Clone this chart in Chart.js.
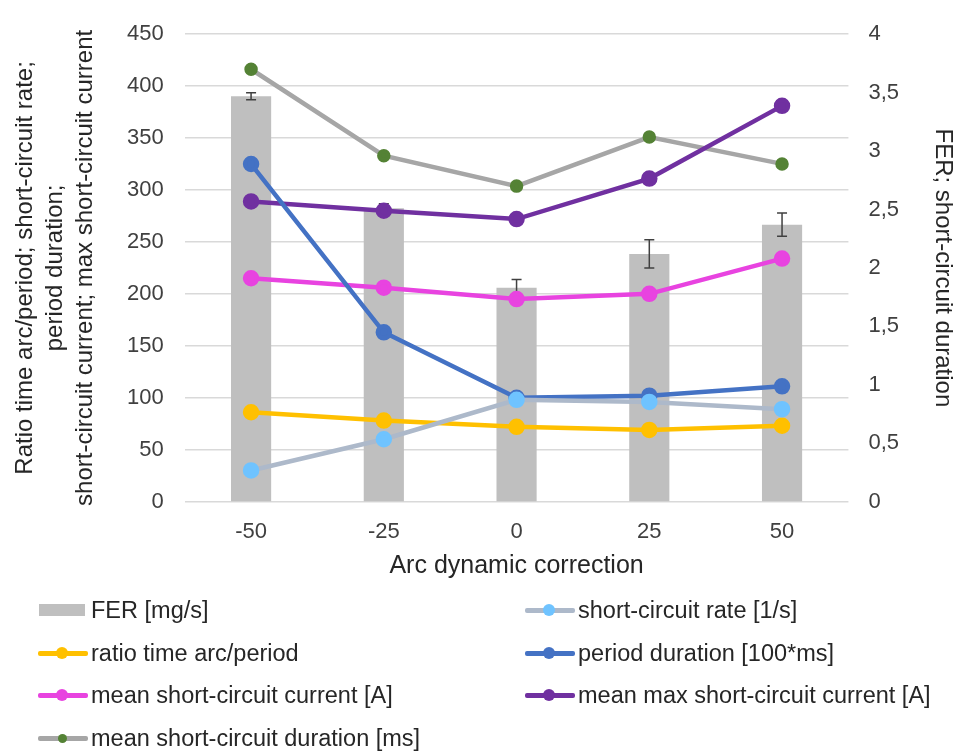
<!DOCTYPE html>
<html>
<head>
<meta charset="utf-8">
<script src="https://cdn.jsdelivr.net/npm/chart.js@4.4.1/dist/chart.umd.min.js"></script>
<style>
  body { margin: 0; background: #fff; font-family: "Liberation Sans", Arial, sans-serif; }
  #wrap { position: relative; width: 955px; height: 590px; }
  #legend { position: absolute; left: 0; top: 0; width: 955px; height: 753px; pointer-events: none; }
  .item { position: absolute; display: flex; align-items: center; font-size: 23.5px; line-height: 28px; color: #262626; white-space: nowrap; }
  .sw { position: relative; width: 50px; height: 14px; margin-right: 3px; }
  .sw .ln { position: absolute; left: 0; right: 0; top: 5px; height: 4.5px; border-radius: 2px; }
  .sw .dot { position: absolute; border-radius: 50%; }
  .sw .box { position: absolute; left: 1px; right: 3px; top: 1px; height: 12px; }
</style>
</head>
<body>
<div id="wrap"><canvas id="chart" width="955" height="590"></canvas></div>
<div id="legend"></div>
<script>
const corrections = ['-50', '-25', '0', '25', '50'];
const fer = [3.47, 2.51, 1.83, 2.12, 2.37];
const ferErr = [0.03, 0.04, 0.07, 0.12, 0.10];
const scRate = [30, 60, 98, 96, 89];
const ratioArc = [86, 78, 72, 69, 73];
const periodDur = [325, 163, 100, 102, 111];
const meanScCurrent = [215, 206, 195, 200, 234];
const meanMaxScCurrent = [289, 280, 272, 311, 381];
const meanScDuration = [3.70, 2.96, 2.70, 3.12, 2.89];

const tickColor = '#404040';
const titleColor = '#262626';
const font = '"Liberation Sans", Arial, sans-serif';

function lineSet(label, data, lineColor, pointColor, radius, axis) {
    return {
        type: 'line', label, data,
        borderColor: lineColor, backgroundColor: pointColor,
        pointBackgroundColor: pointColor, pointBorderColor: pointColor,
        borderWidth: 4.5, pointRadius: radius, pointHoverRadius: radius,
        yAxisID: axis || 'y', order: 1
    };
}

// FER error bars, drawn right after the bars so the lines stay on top
const errorBars = {
    id: 'errorBars',
    afterDatasetDraw(chart, args) {
        if (args.index !== 0) return;
        const ctx = chart.ctx;
        const yr = chart.scales.y1;
        const meta = chart.getDatasetMeta(0);
        ctx.save();
        ctx.strokeStyle = '#404040';
        ctx.lineWidth = 1.5;
        meta.data.forEach((bar, i) => {
            const top = yr.getPixelForValue(fer[i] + ferErr[i]);
            const bot = yr.getPixelForValue(fer[i] - ferErr[i]);
            ctx.beginPath();
            ctx.moveTo(bar.x, top); ctx.lineTo(bar.x, bot);
            ctx.moveTo(bar.x - 5, top); ctx.lineTo(bar.x + 5, top);
            ctx.moveTo(bar.x - 5, bot); ctx.lineTo(bar.x + 5, bot);
            ctx.stroke();
        });
        ctx.restore();
    }
};

const chart = new Chart(document.getElementById('chart'), {
    data: {
        labels: corrections,
        datasets: [
            { type: 'bar', label: 'FER [mg/s]', data: fer, backgroundColor: '#bfbfbf',
              yAxisID: 'y1', barPercentage: 0.55, categoryPercentage: 0.55, order: 10 },
            lineSet('short-circuit rate [1/s]', scRate, '#adb9ca', '#6fc3ff', 6),
            lineSet('ratio time arc/period', ratioArc, '#ffc000', '#ffc000', 6),
            lineSet('period duration [100*ms]', periodDur, '#4472c4', '#4472c4', 6),
            lineSet('mean short-circuit current [A]', meanScCurrent, '#e843e0', '#e843e0', 6),
            lineSet('mean max short-circuit current [A]', meanMaxScCurrent, '#7030a0', '#7030a0', 6),
            lineSet('mean short-circuit duration [ms]', meanScDuration, '#a6a6a6', '#548235', 4.5, 'y1')
        ]
    },
    options: {
        responsive: false,
        animation: false,
        layout: { padding: { top: 14, left: 10, right: 0, bottom: 11 } },
        plugins: { legend: { display: false }, tooltip: { enabled: false } },
        scales: {
            x: {
                grid: { display: false },
                border: { display: false },
                ticks: { color: tickColor, font: { family: font, size: 22 }, padding: 9 },
                title: { display: true, text: 'Arc dynamic correction', color: titleColor,
                         font: { family: font, size: 25, lineHeight: 1.0 }, padding: { top: 0, bottom: 0 } }
            },
            y: {
                position: 'left', min: 0, max: 450,
                ticks: { stepSize: 50, color: tickColor, font: { family: font, size: 22 }, padding: 21 },
                grid: { color: '#d9d9d9', lineWidth: 1.5, drawTicks: false },
                border: { display: false },
                title: { display: true, color: titleColor,
                         text: ['Ratio time arc/period; short-circuit rate;', 'period duration;',
                                'short-circuit current; max short-circuit current'],
                         font: { family: font, size: 24, lineHeight: 1.25 }, padding: { top: 0, bottom: 6 } }
            },
            y1: {
                position: 'right', min: 0, max: 4,
                ticks: { stepSize: 0.5, color: tickColor, font: { family: font, size: 22 }, padding: 20,
                         callback: v => String(v).replace('.', ',') },
                grid: { display: false, drawTicks: false },
                border: { display: false },
                title: { display: true, text: 'FER; short-circuit duration', color: titleColor,
                         font: { family: font, size: 24, lineHeight: 1.0 }, padding: { top: 0, bottom: 12 } }
            }
        }
    },
    plugins: [errorBars]
});

// html legend in two columns, built from the chart's own datasets
const legendDiv = document.getElementById('legend');
const rows = [610, 610, 653, 653, 695, 695, 738];
const cols = [38, 525, 38, 525, 38, 525, 38];
chart.data.datasets.forEach((ds, i) => {
    const item = document.createElement('div');
    item.className = 'item';
    item.style.left = cols[i] + 'px';
    item.style.top = (rows[i] - 14) + 'px';
    const sw = document.createElement('span');
    sw.className = 'sw';
    if (ds.type === 'bar') {
        sw.innerHTML = `<span class="box" style="background:${ds.backgroundColor}"></span>`;
    } else {
        const r = ds.pointRadius;
        sw.innerHTML = `<span class="ln" style="background:${ds.borderColor}"></span>` +
            `<span class="dot" style="background:${ds.pointBackgroundColor};width:${r * 2}px;height:${r * 2}px;left:${24 - r}px;top:${7 - r}px"></span>`;
    }
    item.appendChild(sw);
    const t = document.createElement('span');
    t.textContent = ds.label;
    item.appendChild(t);
    legendDiv.appendChild(item);
});
</script>
</body>
</html>
